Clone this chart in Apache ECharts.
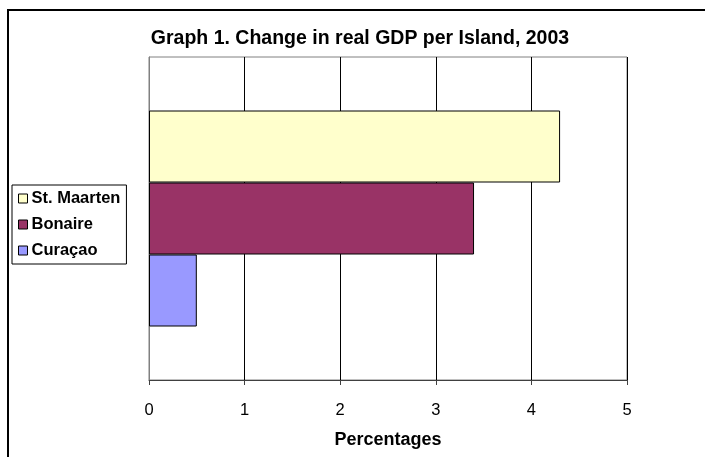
<!DOCTYPE html>
<html><head><meta charset="utf-8">
<script src="https://cdn.jsdelivr.net/npm/echarts@6/dist/echarts.min.js"></script>
<style>html,body{margin:0;padding:0;background:#fff}#c{width:705px;height:457px}</style>
</head><body><div id="c"></div>
<script>
const categories = [''];
const seriesNames = ['St. Maarten', 'Bonaire', 'Curaçao'];
const stMaarten = [4.3];
const bonaire = [3.4];
const curacao = [0.5];
const xTicks = [0, 1, 2, 3, 4, 5];

const chart = echarts.init(document.getElementById('c'), null, {renderer: 'canvas'});
const font = 'Liberation Sans, Arial, sans-serif';
chart.setOption({
  animation: false,
  backgroundColor: '#fff',
  title: {
    text: 'Graph 1. Change in real GDP per Island, 2003',
    left: 355, textAlign: 'center', top: 24,
    textStyle: {fontFamily: font, fontWeight: 'bold', fontSize: 19.5, color: '#000'}
  },
  legend: {
    orient: 'vertical', left: 12, top: 185,
    data: seriesNames,
    itemWidth: 9, itemHeight: 9, itemGap: 9,
    padding: [5, 6, 5, 6],
    borderColor: '#000', borderWidth: 1,
    icon: 'rect',
    itemStyle: {borderColor: '#000', borderWidth: 1},
    textStyle: {fontFamily: font, fontWeight: 'bold', fontSize: 16.5, color: '#000', padding: [0,0,0,-1]}
  },
  graphic: [{
    type: 'rect', shape: {x: 8, y: 10, width: 720, height: 470},
    style: {fill: 'none', stroke: '#000', lineWidth: 2}, silent: true, z: 100
  }],
  grid: {left: 149, right: 78, top: 57, bottom: 77, show: true, borderColor: '#808080', borderWidth: 1},
  xAxis: {
    type: 'value', min: xTicks[0], max: xTicks[xTicks.length-1], interval: 1,
    name: 'Percentages', nameLocation: 'middle', nameGap: 51,
    nameTextStyle: {fontFamily: font, fontWeight: 'bold', fontSize: 18, color: '#000'},
    axisLine: {show: true, lineStyle: {color: '#404040', width: 1}},
    axisTick: {show: true, length: 5, lineStyle: {color: '#404040'}},
    axisLabel: {fontFamily: font, fontSize: 16.5, color: '#000', margin: 22},
    splitLine: {show: true, lineStyle: {color: '#000', width: 1}}
  },
  yAxis: {
    type: 'category', data: categories,
    axisLine: {show: true, lineStyle: {color: '#808080'}},
    axisTick: {show: false}, axisLabel: {show: false}
  },
  series: [
    {name: 'St. Maarten', type: 'bar', data: stMaarten, barWidth: 72, barGap: '0%',
     itemStyle: {color: '#FFFFCC', borderColor: '#000', borderWidth: 1}},
    {name: 'Bonaire', type: 'bar', data: bonaire, barWidth: 72, barGap: '0%',
     itemStyle: {color: '#993366', borderColor: '#000', borderWidth: 1}},
    {name: 'Curaçao', type: 'bar', data: curacao, barWidth: 72, barGap: '0%',
     itemStyle: {color: '#9999FF', borderColor: '#000', borderWidth: 1}}
  ]
});
</script></body></html>
